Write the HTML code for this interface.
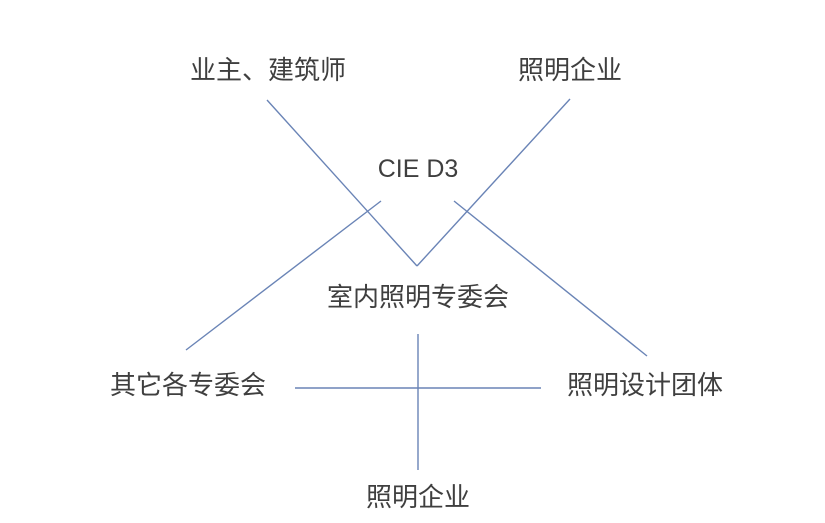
<!DOCTYPE html>
<html><head><meta charset="utf-8"><style>
html,body{margin:0;padding:0;background:#fff;}
svg{display:block}
text{font-family:"Liberation Sans","Noto Sans CJK SC",sans-serif;font-size:26px;fill:#3f3f3f;text-anchor:middle;dominant-baseline:central}
</style></head><body>
<svg width="825" height="523" viewBox="0 0 825 523">
<g stroke="#6a84b6" stroke-width="1.4" fill="none">
<line x1="267" y1="100" x2="417" y2="266"/>
<line x1="417" y1="266" x2="570" y2="99"/>
<line x1="381" y1="201" x2="186" y2="350"/>
<line x1="454" y1="201" x2="647" y2="356"/>
<line x1="295" y1="388" x2="541" y2="388"/>
<line x1="418" y1="334" x2="418" y2="470"/>
</g>
<text x="268" y="70">业主、建筑师</text>
<text x="570" y="70">照明企业</text>
<text x="418" y="169" style="font-size:25px">CIE D3</text>
<text x="418" y="297">室内照明专委会</text>
<text x="188" y="385">其它各专委会</text>
<text x="645" y="385">照明设计团体</text>
<text x="418" y="497">照明企业</text>
</svg>
</body></html>
